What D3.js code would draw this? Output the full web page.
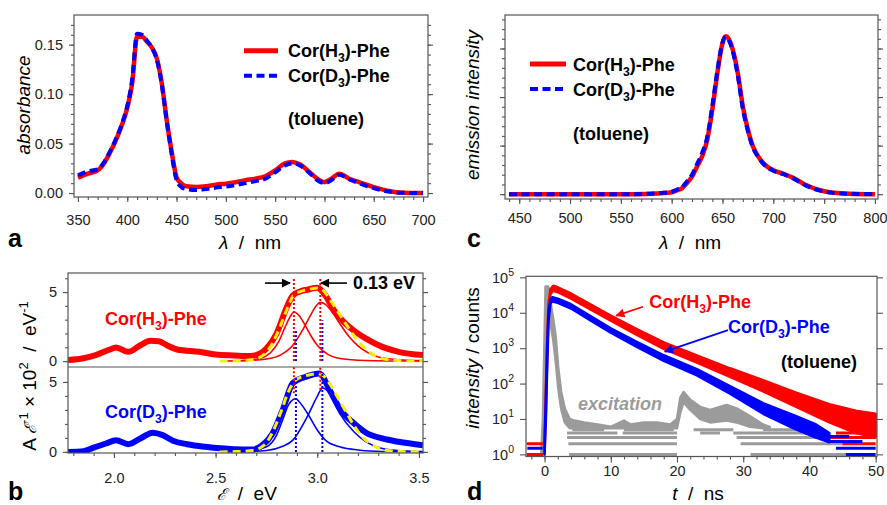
<!DOCTYPE html>
<html>
<head>
<meta charset="utf-8">
<script src="https://cdn.jsdelivr.net/npm/d3@7"></script>
<style>
	body { margin: 0; background: #fff; }
	svg { font-family: 'Liberation Sans', Arial, sans-serif; }
</style>
</head>
<body>
<div id="chart"></div>
<script>
// panel a : absorption spectra
const absNm = [350,360,370,375,382,390,395,400,405,410,415,420,425,430,435,440,445,450,455,460,470,480,490,500,510,520,530,540,550,560,567,575,585,595,600,607,615,625,635,650,665,680,700]
const absH = [.0156,.0196,.023,.028,.040,.057,.070,.086,.111,.158,.158,.153,.147,.136,.111,.074,.042,.016,.0095,.0068,.006,.0068,.0085,.0095,.011,.013,.0145,.017,.023,.030,.0315,.029,.021,.013,.011,.0145,.0196,.0145,.011,.006,.002,.0003,0]
const absD = [.018,.022,.024,.029,.041,.058,.071,.088,.115,.161,.160,.154,.147,.135,.110,.073,.040,.013,.006,.004,.003,.004,.0055,.0065,.008,.010,.012,.0145,.021,.028,.030,.028,.020,.0115,.010,.013,.0185,.014,.010,.005,.0015,.0002,0]

// panel c : emission spectra
const emNm = [440,500,560,590,600,605,610,615,620,625,630,635,640,645,650,653,656,660,665,670,675,680,685,690,700,710,720,730,740,750,760,775,800]
const emH = [0,0,0,.02,.04,.076,.12,.23,.36,.57,.78,1.12,1.74,2.5,3.11,3.25,3.2,2.98,2.5,1.81,1.33,.98,.78,.64,.49,.42,.33,.21,.12,.06,.03,.01,0]
const emD = [0,0,0,.025,.05,.09,.14,.26,.40,.62,.85,1.18,1.82,2.55,3.12,3.24,3.18,2.95,2.45,1.76,1.3,.96,.77,.63,.48,.41,.32,.2,.11,.055,.025,.008,0]

// panel b : A/E (x100) vs energy
const eH = [1.774,1.85,1.91,1.98,2.01,2.07,2.13,2.18,2.22,2.26,2.31,2.42,2.50,2.59,2.67,2.72,2.75,2.80,2.85,2.88,2.92,2.95,3.0,3.045,3.08,3.13,3.19,3.24,3.32,3.40,3.52]
const aeH = [0.07,0.2,0.43,0.84,0.99,0.67,1.15,1.47,1.44,1.15,0.84,0.67,0.48,0.41,0.36,0.55,0.91,2.0,3.9,4.76,5.07,5.17,5.31,4.64,3.73,2.84,2.1,1.63,1.03,0.67,0.43]
const eD = [1.774,1.85,1.90,1.96,2.01,2.07,2.13,2.19,2.24,2.29,2.36,2.45,2.59,2.68,2.73,2.78,2.83,2.88,2.95,3.01,3.06,3.11,3.18,3.24,3.32,3.40,3.52]
const aeD = [0,0.05,0.3,0.6,0.84,0.55,0.96,1.37,1.2,0.8,0.55,0.36,0.19,0.17,0.48,1.32,3.0,4.93,5.4,5.6,4.45,3.1,2.04,1.37,0.96,0.72,0.48]

const compH1 = [[2.55,0],[2.65,0.05],[2.72,0.2],[2.77,0.6],[2.81,1.4],[2.84,2.4],[2.87,3.3],[2.885,3.55],[2.91,3.3],[2.94,2.6],[2.97,1.8],[3.0,1.15],[3.05,0.5],[3.1,0.22],[3.2,0.06],[3.35,0],[3.52,0]]
const compH2 = [[2.6,0],[2.75,0.15],[2.82,0.45],[2.88,1.15],[2.93,2.3],[2.97,3.4],[3.0,4.1],[3.015,4.25],[3.04,4.1],[3.08,3.4],[3.12,2.5],[3.16,1.7],[3.2,1.1],[3.25,0.6],[3.3,0.3],[3.4,0.1],[3.52,0.03]]
const fitH = [[2.52,0],[2.6,0.02],[2.68,0.1],[2.74,0.5],[2.78,1.3],[2.82,2.6],[2.855,3.9],[2.885,4.8],[2.92,5.05],[2.96,5.2],[3.0,5.3],[3.03,5.1],[3.06,4.5],[3.1,3.6],[3.14,2.7],[3.18,1.85],[3.22,1.15],[3.26,0.6],[3.3,0.28],[3.36,0.08],[3.45,0.01],[3.52,0]]
const compD1 = [[2.55,0],[2.65,0.03],[2.75,0.36],[2.80,1.2],[2.83,2.3],[2.86,3.4],[2.895,3.8],[2.91,3.6],[2.95,2.8],[3.0,1.56],[3.04,0.84],[3.11,0.36],[3.21,0.12],[3.32,0.03],[3.52,0]]
const compD2 = [[2.6,0],[2.75,0.1],[2.83,0.4],[2.88,0.84],[2.95,2.5],[3.0,3.97],[3.025,4.57],[3.06,4.2],[3.11,2.76],[3.18,1.44],[3.24,0.72],[3.32,0.24],[3.42,0.07],[3.52,0.02]]
const fitD = [[2.52,0],[2.6,0.02],[2.68,0.1],[2.74,0.5],[2.78,1.4],[2.82,2.8],[2.855,4.2],[2.885,5.0],[2.92,5.35],[2.96,5.5],[3.0,5.6],[3.03,5.45],[3.06,4.9],[3.1,3.9],[3.14,2.9],[3.18,1.9],[3.22,1.1],[3.26,0.6],[3.3,0.28],[3.36,0.08],[3.45,0.01],[3.52,0]]

// dotted peak markers: [energy, from, to, colour]
const peakH = [2.885, 3.015]
const peakD = [2.895, 3.025]
const dropsTop = [[peakH[0], 0, 6.0, 'red'], [peakH[1], 0, 6.0, 'red'], [peakD[0], 0, 2.24, 'blue'], [peakD[1], 0, 2.96, 'blue']]
const dropsBottom = [[peakH[0], 4.2, 6.07, 'red'], [peakH[1], 4.45, 6.07, 'red'], [peakD[0], 0, 5.3, 'blue'], [peakD[1], 0, 5.65, 'blue']]

// panel d : fluorescence decays (noise band, counts)
const tRed = [0,0.2,0.4,0.6,0.9,1.3,2,4,7,10,14,18,23,28,33,38,43,47,50]
const redLo = [1,16,500,8900,34000,42000,38000,25000,12300,6000,2350,955,390,155,60,22,8,4,3]
const redHi = [2.5,63,2000,17800,47000,58000,52500,35000,17000,8300,3400,1450,620,270,125,55,26,17,14]
const tBlue = [0,0.2,0.4,0.6,0.9,1.2,2,4,7,10,14,18,23,28,33,38,41,43]
const blueLo = [1,10,316,5600,18600,20900,19000,13200,6000,2750,1070,437,170,52,14,5,3,2.2]
const blueHi = [2,40,1260,11200,24500,27500,25100,17400,7900,3630,1480,630,257,85,28,12,7,4]
const tGray = [-0.5,-0.25,0,0.15,0.55,0.9,1.3,1.7,2.05,2.5,3.05,3.8,4.5,6,8,10,12,13,15,17,19,20,20.5,21,22,23.5,25,27.5,29,31,33,34]
const grayHi = [1,10,2000,55000,55000,20000,7000,2000,300,60,20,10,9,8,7,6,9,7,8,8,7,10,40,58,35,22,18,25,20,12,7,6]
const grayLo = [1,1.5,60,5000,20000,5000,1800,400,80,20,8,5.5,5.5,5.5,5.5,5.5,5.5,5.5,5.5,5.5,5.5,5.5,15,30,18,10,8,9,8,6,5.5,5.5]
// quantised count rows: [counts, t start, t end]
const grayRows = [[5,4.2,9],[5,12,19.5],[5,22.5,28.5],[5,33,38],[4,3.4,11],[4,11.8,20],[4,23.5,26.5],[4,28.5,42],[3,3.4,20],[3,29,44.4],[2,3.6,20],[2,29.6,45.2],[1,3.7,20],[1,31.1,49.7]]
const redRows = [[2,-2.7,-0.2],[1,-2.7,-0.2],[4,44,50],[3,43,50],[2,45,50]]
const blueRows = [[1.5,-2.6,-0.3],[1.5,44,50],[1,45.5,50],[2.3,43,48],[3.2,42,46]]

const red = '#ff0000', blue = '#0000ff', gray = '#9b9b9b', yellow = '#ffee00'
const frameColor = '#555'

const svg = d3.select('#chart').append('svg').attr('width', 887).attr('height', 505)

const defs = svg.append('defs')
function arrowMarker(id, color) {
	defs.append('marker')
		.attr('id', id)
		.attr('viewBox', '0 0 10 10')
		.attr('refX', 9).attr('refY', 5)
		.attr('markerUnits', 'userSpaceOnUse')
		.attr('markerWidth', 10).attr('markerHeight', 9)
		.attr('orient', 'auto')
		.append('path').attr('d', 'M0,0L10,5L0,10z').attr('fill', color)
}
arrowMarker('arK', '#000')
arrowMarker('arR', red)
arrowMarker('arB', blue)

function clip(id, x, y) {
	defs.append('clipPath').attr('id', id).append('rect')
		.attr('x', x.range()[0]).attr('y', y.range()[1])
		.attr('width', x.range()[1] - x.range()[0])
		.attr('height', y.range()[0] - y.range()[1])
}

function frame(x, y) {
	svg.append('rect')
		.attr('x', x.range()[0]).attr('y', y.range()[1])
		.attr('width', x.range()[1] - x.range()[0])
		.attr('height', y.range()[0] - y.range()[1])
		.attr('fill', 'none').attr('stroke', frameColor).attr('stroke-width', 1.2)
}

function ticks(axis, scale, values, size, tx, ty, fmt, pad) {
	let g = svg.append('g')
		.attr('transform', `translate(${tx},${ty})`)
		.call(axis(scale).tickValues(values).tickSize(size).tickSizeOuter(0)
			.tickPadding(pad || 3).tickFormat(fmt || (() => '')))
		.attr('font-family', null).attr('font-size', null)
	g.select('.domain').remove()
	g.selectAll('line').attr('stroke', frameColor).attr('stroke-width', 1.1)
	g.selectAll('text').attr('font-size', 14.5).attr('fill', '#222')
	return g
}

function corLabel(sel, letter) {
	sel.append('tspan').text('Cor(' + letter)
	sel.append('tspan').attr('dy', 5).attr('font-size', '0.68em').text('3')
	sel.append('tspan').attr('dy', -5).text(')-Phe')
	return sel
}

function text(x, y, str, opts) {
	let t = svg.append('text').attr('x', x).attr('y', y)
		.attr('font-size', opts.size || 18)
		.attr('font-weight', opts.weight || 'normal')
		.attr('font-style', opts.style || 'normal')
		.attr('fill', opts.fill || '#000')
		.attr('text-anchor', opts.anchor || 'start')
		.style('white-space', 'pre')
	if (opts.rotate) t.attr('transform', `rotate(-90,${x},${y})`)
	if (str) t.text(str)
	return t
}

function pairs(xs, ys) { return xs.map((d, i) => [d, ys[i]]) }

// ---------------- panel a ----------------
const xA = d3.scaleLinear().domain([346, 705]).range([74, 428])
const yA = d3.scaleLinear().domain([-0.004, 0.180]).range([197, 15])
clip('clipA', xA, yA)
const lineA = d3.line().x(d => xA(d[0])).y(d => yA(d[1])).curve(d3.curveMonotoneX)
const gA = svg.append('g').attr('clip-path', 'url(#clipA)')
gA.append('path').attr('d', lineA(pairs(absNm, absH)))
	.attr('fill', 'none').attr('stroke', red).attr('stroke-width', 4.5)
gA.append('path').attr('d', lineA(pairs(absNm, absD)))
	.attr('fill', 'none').attr('stroke', blue).attr('stroke-width', 4).attr('stroke-dasharray', '8,4.5')

ticks(d3.axisBottom, xA, d3.range(350, 701, 50), 5, 0, 197, d3.format('d'), 13)
ticks(d3.axisBottom, xA, d3.range(350, 701, 10), 3, 0, 197)
ticks(d3.axisLeft, yA, [0, 0.05, 0.10, 0.15], 5, 74, 0, d3.format('.2f'), 6)
ticks(d3.axisLeft, yA, d3.range(0, 0.171, 0.01), 3, 74, 0)
ticks(d3.axisRight, yA, [0, 0.05, 0.10, 0.15], 5, 428, 0)
ticks(d3.axisRight, yA, d3.range(0, 0.171, 0.01), 3, 428, 0)
frame(xA, yA)

svg.append('line').attr('x1', xA(518.4)).attr('x2', xA(552.9)).attr('y1', yA(0.1439)).attr('y2', yA(0.1439))
	.attr('stroke', red).attr('stroke-width', 5)
svg.append('line').attr('x1', xA(518.4)).attr('x2', xA(552.9)).attr('y1', yA(0.1186)).attr('y2', yA(0.1186))
	.attr('stroke', blue).attr('stroke-width', 4).attr('stroke-dasharray', '8,4.5')
corLabel(text(xA(563), yA(0.1439), null, { weight: 'bold' }).attr('dy', '0.36em'), 'H')
corLabel(text(xA(563), yA(0.1186), null, { weight: 'bold' }).attr('dy', '0.36em'), 'D')
text(xA(563), yA(0.0689), '(toluene)', { weight: 'bold' })

text(30, 105, 'absorbance', { size: 19, style: 'italic', anchor: 'middle', rotate: true })
let tA = text(250, 249, null, { size: 19, anchor: 'middle' })
tA.append('tspan').attr('font-style', 'italic').text('λ')
tA.append('tspan').text('  /  nm')
text(8, 247, 'a', { size: 25, weight: 'bold' })

// ---------------- panel c ----------------
const xC = d3.scaleLinear().domain([436, 803]).range([505, 878])
const yC = d3.scaleLinear().domain([-0.1, 3.69]).range([199, 15])
clip('clipC', xC, yC)
const lineC = d3.line().x(d => xC(d[0])).y(d => yC(d[1])).curve(d3.curveMonotoneX)
const gC = svg.append('g').attr('clip-path', 'url(#clipC)')
gC.append('path').attr('d', lineC(pairs(emNm, emH)))
	.attr('fill', 'none').attr('stroke', red).attr('stroke-width', 4.5)
gC.append('path').attr('d', lineC(pairs(emNm, emD)))
	.attr('fill', 'none').attr('stroke', blue).attr('stroke-width', 4).attr('stroke-dasharray', '8,4.5')

ticks(d3.axisBottom, xC, d3.range(450, 801, 50), 5, 0, 199, d3.format('d'), 9)
ticks(d3.axisBottom, xC, d3.range(440, 801, 10), 3, 0, 199)
ticks(d3.axisLeft, yC, [0, 1, 2, 3], 5, 505, 0)
ticks(d3.axisLeft, yC, d3.range(0, 3.61, 0.2), 3, 505, 0)
ticks(d3.axisRight, yC, [0, 1, 2, 3], 5, 878, 0)
ticks(d3.axisRight, yC, d3.range(0, 3.61, 0.2), 3, 878, 0)
frame(xC, yC)

svg.append('line').attr('x1', xC(460.6)).attr('x2', xC(496)).attr('y1', yC(2.68)).attr('y2', yC(2.68))
	.attr('stroke', red).attr('stroke-width', 5)
svg.append('line').attr('x1', xC(460.6)).attr('x2', xC(496)).attr('y1', yC(2.165)).attr('y2', yC(2.165))
	.attr('stroke', blue).attr('stroke-width', 4).attr('stroke-dasharray', '8,4.5')
corLabel(text(xC(502.9), yC(2.68), null, { weight: 'bold' }).attr('dy', '0.36em'), 'H')
corLabel(text(xC(502.9), yC(2.165), null, { weight: 'bold' }).attr('dy', '0.36em'), 'D')
text(xC(502.9), yC(1.11), '(toluene)', { weight: 'bold' })

text(479, 105, 'emission intensity', { size: 19, style: 'italic', anchor: 'middle', rotate: true })
let tC = text(690, 249, null, { size: 19, anchor: 'middle' })
tC.append('tspan').attr('font-style', 'italic').text('λ')
tC.append('tspan').text('  /  nm')
text(467, 247, 'c', { size: 25, weight: 'bold' })

// ---------------- panel b ----------------
const xB = d3.scaleLinear().domain([1.774, 3.52]).range([68, 423])
const yBH = d3.scaleLinear().domain([-0.43, 6.38]).range([367, 273])
const yBD = d3.scaleLinear().domain([-0.08, 6.07]).range([453, 367])
clip('clipBH', xB, yBH)
clip('clipBD', xB, yBD)

function subPanel(y, clipId, data, c1, c2, fit, drops, color) {
	let line = d3.line().x(d => xB(d[0])).y(d => y(d[1])).curve(d3.curveMonotoneX)
	let g = svg.append('g').attr('clip-path', `url(#${clipId})`)
	g.append('path').attr('d', line(data))
		.attr('fill', 'none').attr('stroke', color).attr('stroke-width', 6).attr('stroke-linejoin', 'round')
	;[c1, c2].forEach(c => g.append('path').attr('d', line(c))
		.attr('fill', 'none').attr('stroke', color).attr('stroke-width', 1.6))
	g.append('path').attr('d', line(fit))
		.attr('fill', 'none').attr('stroke', yellow).attr('stroke-width', 3).attr('stroke-dasharray', '8,5')
	g.selectAll('line.drop').data(drops).join('line')
		.attr('x1', d => xB(d[0])).attr('x2', d => xB(d[0]))
		.attr('y1', d => y(d[1])).attr('y2', d => y(d[2]))
		.attr('stroke', d => d[3] === 'red' ? red : blue)
		.attr('stroke-width', 2).attr('stroke-dasharray', '2,2')
	ticks(d3.axisLeft, y, [0, 5], 5, 68, 0, d3.format('d'), 6)
	ticks(d3.axisLeft, y, [0, 1, 2, 3, 4, 5, 6].filter(v => y(v) > y.range()[1] + 1), 3, 68, 0)
	ticks(d3.axisRight, y, [0, 5], 5, 423, 0)
	ticks(d3.axisRight, y, [0, 1, 2, 3, 4, 5, 6].filter(v => y(v) > y.range()[1] + 1), 3, 423, 0)
}
subPanel(yBH, 'clipBH', pairs(eH, aeH), compH1, compH2, fitH, dropsTop, red)
subPanel(yBD, 'clipBD', pairs(eD, aeD), compD1, compD2, fitD, dropsBottom, blue)

ticks(d3.axisBottom, xB, [2.0, 2.5, 3.0, 3.5], 5, 0, 453, d3.format('.1f'), 15)
ticks(d3.axisBottom, xB, d3.range(18, 36).map(d => d / 10), 3, 0, 453)
svg.append('rect').attr('x', 68).attr('y', 273).attr('width', 355).attr('height', 180)
	.attr('fill', 'none').attr('stroke', frameColor).attr('stroke-width', 1.2)
svg.append('line').attr('x1', 68).attr('x2', 423).attr('y1', 367).attr('y2', 367)
	.attr('stroke', frameColor).attr('stroke-width', 1.2)

svg.append('line').attr('x1', xB(2.743)).attr('x2', xB(2.866)).attr('y1', yBH(5.65)).attr('y2', yBH(5.65))
	.attr('stroke', '#000').attr('stroke-width', 1.6).attr('marker-end', 'url(#arK)')
svg.append('line').attr('x1', xB(3.146)).attr('x2', xB(3.018)).attr('y1', yBH(5.65)).attr('y2', yBH(5.65))
	.attr('stroke', '#000').attr('stroke-width', 1.6).attr('marker-end', 'url(#arK)')
text(xB(3.176), yBH(5.2), '0.13 eV', { weight: 'bold' })
corLabel(text(xB(1.956), yBH(2.6), null, { weight: 'bold', fill: red }), 'H')
corLabel(text(xB(1.956), yBD(2.43), null, { weight: 'bold', fill: blue }), 'D')

let tBy = text(36, 376, null, { size: 19, anchor: 'middle', rotate: true })
tBy.append('tspan').text('A ')
tBy.append('tspan').attr('font-style', 'italic').attr('font-size', 16).text('ℰ')
tBy.append('tspan').attr('dy', -8).attr('font-size', 13).text('-1')
tBy.append('tspan').attr('dy', 8).text(' × 10')
tBy.append('tspan').attr('dy', -8).attr('font-size', 13).text('2')
tBy.append('tspan').attr('dy', 8).text('  /  eV')
tBy.append('tspan').attr('dy', -8).attr('font-size', 13).text('-1')
let tBx = text(247, 500, null, { size: 19, anchor: 'middle' })
tBx.append('tspan').attr('font-style', 'italic').attr('font-size', 16).text('ℰ')
tBx.append('tspan').text('  /  eV')
text(8, 500, 'b', { size: 25, weight: 'bold' })

// ---------------- panel d ----------------
const xD = d3.scaleLinear().domain([-2.8, 50.2]).range([526, 877])
const yD = d3.scaleLog().domain([Math.pow(10, -0.06), Math.pow(10, 5.03)]).range([456.5, 276.3])
clip('clipD', xD, yD)
const gD = svg.append('g').attr('clip-path', 'url(#clipD)')
const band = d3.area().x(d => xD(d[0])).y0(d => yD(d[1])).y1(d => yD(d[2]))

function decay(ts, lo, hi, rows, color) {
	gD.append('path').attr('d', band(ts.map((t, i) => [t, lo[i], hi[i]])))
		.attr('fill', color).attr('stroke', color).attr('stroke-width', 2.5).attr('stroke-linejoin', 'round')
	gD.selectAll(null).data(rows).join('line')
		.attr('x1', d => xD(d[1])).attr('x2', d => xD(d[2]))
		.attr('y1', d => yD(d[0])).attr('y2', d => yD(d[0]))
		.attr('stroke', color).attr('stroke-width', 3)
}
decay(tGray, grayLo, grayHi, grayRows, gray)
decay(tRed, redLo, redHi, redRows, red)
decay(tBlue, blueLo, blueHi, blueRows, blue)

const decades = [1, 10, 100, 1e3, 1e4, 1e5]
let gDy = ticks(d3.axisLeft, yD, decades, 6, 526, 0, d => '10', 6)
gDy.selectAll('text').append('tspan').attr('dy', -7).attr('font-size', 10.5)
	.text(d => Math.round(Math.log10(d)))
ticks(d3.axisRight, yD, decades, 6, 877, 0)
ticks(d3.axisBottom, xD, d3.range(0, 51, 10), 6, 0, 456.5, d3.format('d'), 3)
ticks(d3.axisBottom, xD, d3.range(-2, 51, 2), 3, 0, 456.5)
frame(xD, yD)

svg.append('line').attr('x1', xD(14.87)).attr('y1', yD(Math.pow(10, 4.17)))
	.attr('x2', xD(10.83)).attr('y2', yD(Math.pow(10, 3.92)))
	.attr('stroke', red).attr('stroke-width', 1.8).attr('marker-end', 'url(#arR)')
svg.append('line').attr('x1', xD(27.7)).attr('y1', yD(Math.pow(10, 3.51)))
	.attr('x2', xD(18.15)).attr('y2', yD(Math.pow(10, 2.9)))
	.attr('stroke', blue).attr('stroke-width', 1.8).attr('marker-end', 'url(#arB)')
corLabel(text(xD(15.8), yD(Math.pow(10, 4.13)), null, { weight: 'bold', fill: red }), 'H')
corLabel(text(xD(27.7), yD(Math.pow(10, 3.42)), null, { weight: 'bold', fill: blue }), 'D')
text(xD(35.7), yD(Math.pow(10, 2.43)), '(toluene)', { weight: 'bold' })
text(xD(5.05), yD(Math.pow(10, 1.25)), 'excitation', { weight: 'bold', style: 'italic', fill: gray })

let tDy = text(479, 358, null, { size: 19, anchor: 'middle', rotate: true })
tDy.append('tspan').attr('font-style', 'italic').text('intensity')
tDy.append('tspan').text(' / counts')
let tDx = text(698, 500, null, { size: 19, anchor: 'middle' })
tDx.append('tspan').attr('font-style', 'italic').text('t')
tDx.append('tspan').text('  /  ns')
text(467, 500, 'd', { size: 25, weight: 'bold' })
</script>
</body>
</html>
